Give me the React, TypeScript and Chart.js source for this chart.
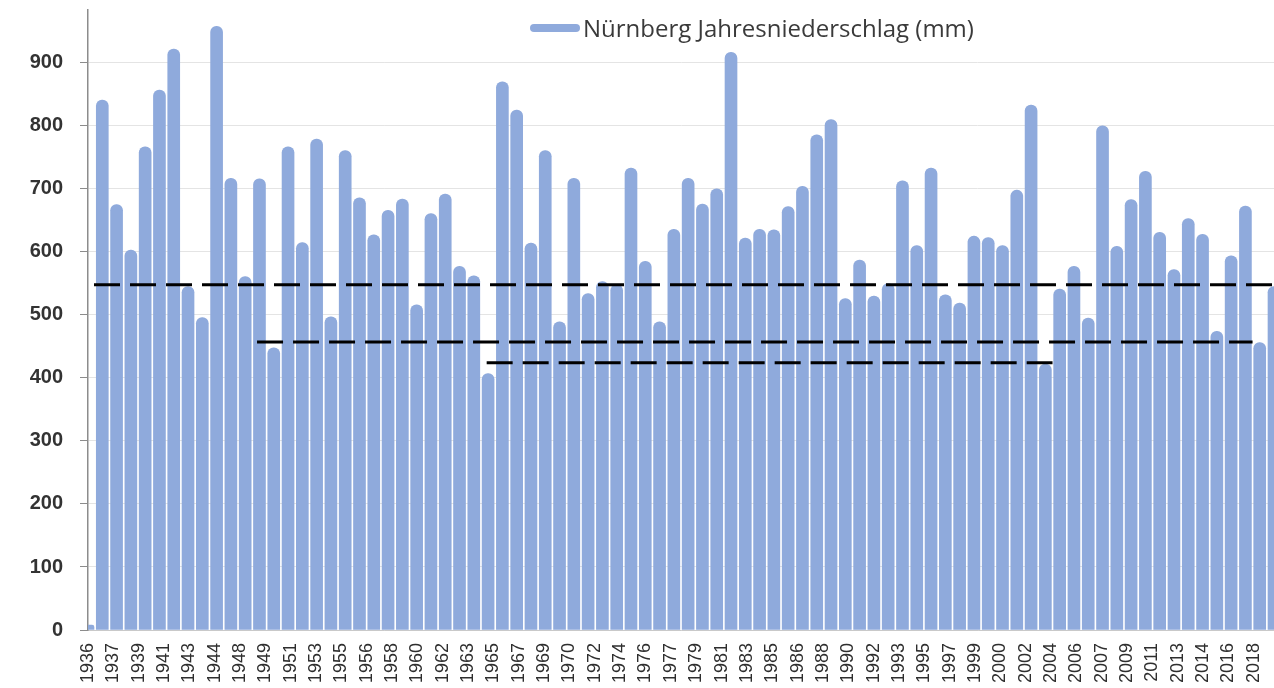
import React, { useEffect, useRef } from "react";
import { Chart, registerables } from "chart.js";

Chart.register(...registerables);

const seriesLabel = "Nürnberg Jahresniederschlag (mm)";

const years = [
  1936, 1937, 1938, 1939, 1940, 1941, 1942, 1943, 1944, 1945, 1946, 1947,
  1948, 1949, 1950, 1951, 1952, 1953, 1954, 1955, 1956, 1957, 1958, 1959,
  1960, 1961, 1962, 1963, 1964, 1965, 1966, 1967, 1968, 1969, 1970, 1971,
  1972, 1973, 1974, 1975, 1976, 1977, 1978, 1979, 1980, 1981, 1982, 1983,
  1984, 1985, 1986, 1987, 1988, 1989, 1990, 1991, 1992, 1993, 1994, 1995,
  1996, 1997, 1998, 1999, 2000, 2001, 2002, 2003, 2004, 2005, 2006, 2007,
  2008, 2009, 2010, 2011, 2012, 2013, 2014, 2015, 2016, 2017, 2018, 2019,
];

const precipitation = [
  8, 841, 675, 603, 767, 857, 922, 545, 496, 958, 717, 561,
  716, 448, 767, 615, 779, 497, 761, 686, 627, 666, 684, 516,
  661, 692, 577, 562, 407, 870, 825, 614, 761, 489, 717, 534,
  553, 548, 733, 585, 489, 636, 717, 676, 700, 917, 622, 636,
  635, 672, 704, 786, 810, 526, 587, 530, 550, 713, 610, 733,
  532, 519, 625, 623, 610, 698, 833, 422, 541, 577, 495, 800,
  609, 683, 728, 631, 572, 653, 628, 474, 594, 673, 456, 545,
];

const tickLabels = [
  "1936", "1937", "1939", "1941", "1943", "1944", "1948", "1949", "1951",
  "1953", "1955", "1956", "1958", "1960", "1962", "1963", "1965", "1967",
  "1969", "1970", "1972", "1974", "1976", "1977", "1979", "1981", "1983",
  "1985", "1986", "1988", "1990", "1992", "1993", "1995", "1997", "1999",
  "2000", "2002", "2004", "2006", "2007", "2009", "2011", "2013", "2014",
  "2016", "2018",
];

const yTickValues = [0, 100, 200, 300, 400, 500, 600, 700, 800, 900];

// period means (dashed lines): value, start and end in bar-index units
const meanValues = [548, 457, 424];
const meanStart = [0.42, 11.83, 27.9];
const meanEnd = [83, 81.5, 67.5];

const BAR_COLOR = "#8FAADC";

export default function App() {
  const ref = useRef<HTMLCanvasElement>(null);

  useEffect(() => {
    if (!ref.current) return;
    const lineSets = meanValues.map((v, i) => ({
      type: "line" as const,
      label: "mean" + i,
      data: [
        { x: meanStart[i], y: v },
        { x: meanEnd[i], y: v },
      ],
      xAxisID: "xl",
      yAxisID: "y",
      borderColor: "#000000",
      borderWidth: 3,
      borderDash: [26, 10],
      pointRadius: 0,
      fill: false,
      order: 1,
    }));

    const chart = new Chart(ref.current, {
      type: "bar",
      data: {
        labels: years.map(String),
        datasets: [
          {
            type: "bar",
            label: seriesLabel,
            data: precipitation,
            backgroundColor: BAR_COLOR,
            barThickness: 12,
            grouped: false,
            borderRadius: 6,
            xAxisID: "x",
            yAxisID: "y",
            order: 2,
          } as any,
          ...(lineSets as any[]),
        ],
      },
      options: {
        animation: false,
        responsive: true,
        maintainAspectRatio: false,
        layout: { padding: { top: 10, left: 0, right: 0, bottom: 0 } },
        plugins: {
          legend: { display: false },
          tooltip: { enabled: false },
        },
        scales: {
          x: {
            type: "category",
            display: false,
            offset: false,
            grid: { display: false, offset: false },
          },
          xl: {
            type: "linear",
            display: false,
            offset: false,
            grid: { offset: false },
            min: 0,
            max: precipitation.length - 1,
          },
          xt: {
            type: "linear",
            position: "bottom",
            offset: false,
            min: 0,
            max: 46.8,
            afterBuildTicks: (s: any) => {
              s.ticks = tickLabels.map((_, i) => ({ value: i }));
            },
            afterFit: (s: any) => {
              s.height = 58;
              s.paddingLeft = 0;
              s.paddingRight = 0;
            },
            ticks: {
              autoSkip: false,
              maxRotation: 90,
              minRotation: 90,
              padding: 13,
              color: "#2e2e2e",
              font: { family: "Liberation Sans", size: 18 },
              callback: (v: any) => tickLabels[v as number] ?? "",
            },
            grid: { display: false, drawTicks: false, offset: false },
            border: { display: true, color: "#c9c9c9" },
          },
          y: {
            min: 0,
            max: 984,
            afterBuildTicks: (s: any) => {
              s.ticks = yTickValues.map((v) => ({ value: v }));
            },
            afterFit: (s: any) => {
              s.width = 88;
              s.paddingTop = 0;
              s.paddingBottom = 0;
            },
            ticks: {
              padding: 17,
              color: "#333333",
              font: { family: "Liberation Sans", size: 20, weight: "bold" },
            },
            grid: {
              color: "#e4e4e4",
              tickColor: "#8c8c8c",
              tickLength: 8,
              lineWidth: 1,
            },
            border: { color: "#8c8c8c", width: 1.5 },
          },
        } as any,
      },
    });
    return () => chart.destroy();
  }, []);

  return (
    <div
      style={{
        position: "absolute",
        left: 0,
        top: 0,
        width: 1274,
        height: 688,
        background: "#ffffff",
        overflow: "hidden",
      }}
    >
      <canvas ref={ref} />
      <div
        style={{
          position: "absolute",
          left: 530,
          top: 13,
          height: 30,
          display: "flex",
          alignItems: "center",
          gap: 3,
          pointerEvents: "none",
        }}
      >
        <span
          style={{
            display: "inline-block",
            width: 50,
            height: 8,
            borderRadius: 4,
            background: BAR_COLOR,
          }}
        />
        <span
          style={{
            fontFamily: "'Open Sans', sans-serif",
            fontSize: 24,
            color: "#3a3a3a",
            whiteSpace: "nowrap",
            lineHeight: "30px",
          }}
        >
          {seriesLabel}
        </span>
      </div>
    </div>
  );
}
